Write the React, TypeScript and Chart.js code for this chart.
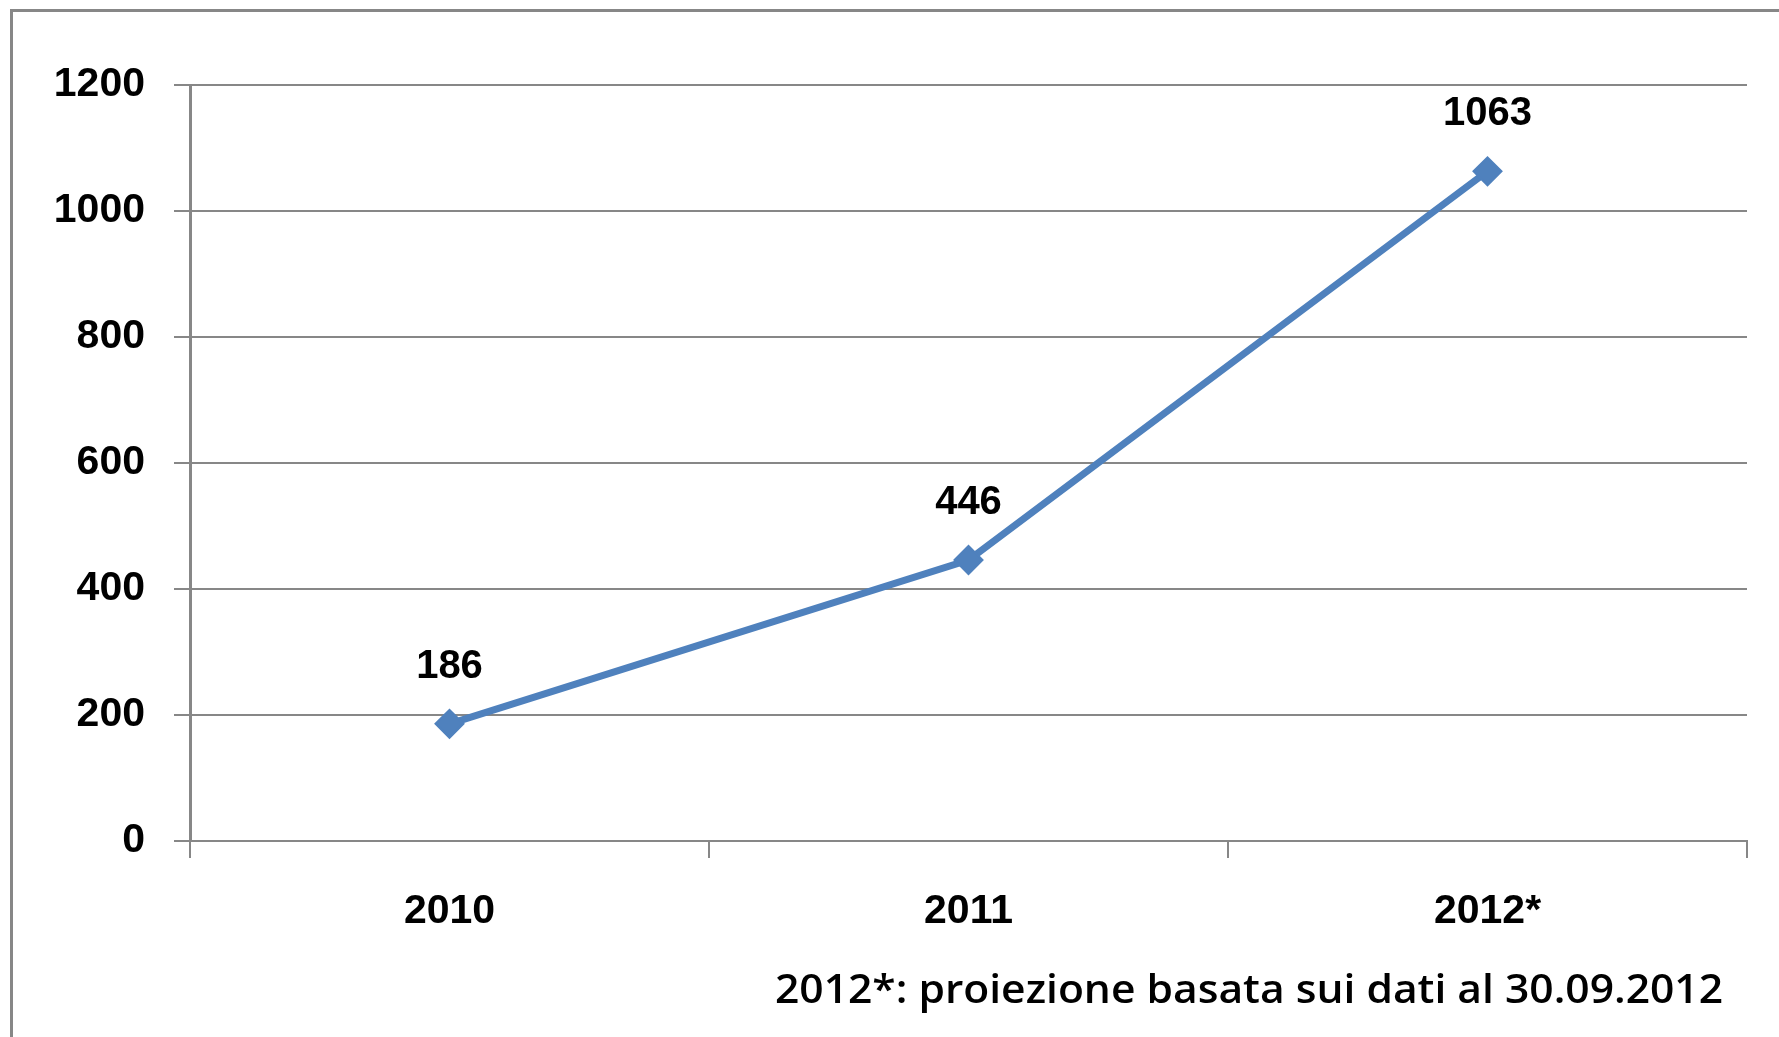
import React, { useEffect, useRef } from "react";
import { Chart, registerables } from "chart.js";

Chart.register(...registerables);

const categories = ["2010", "2011", "2012*"];
const values = [186, 446, 1063];
const yTicks = [0, 200, 400, 600, 800, 1000, 1200];
const noteText = "2012*: proiezione basata sui dati al 30.09.2012";

const W = 1779;
const H = 1037;
const BOLDF = "'Liberation Sans', Arial, sans-serif";
const GRAY = "#878787";
const BLUE = "#4F81BD";

export default function App() {
  const ref = useRef<HTMLCanvasElement | null>(null);

  useEffect(() => {
    document.body.style.margin = "0";
    const canvas = ref.current!;
    const framePlugin = {
      id: "frame",
      beforeDraw(chart: any) {
        const ctx = chart.ctx;
        ctx.save();
        ctx.fillStyle = "#ffffff";
        ctx.fillRect(0, 0, chart.width, chart.height);
        ctx.fillStyle = GRAY;
        ctx.fillRect(10, 9, 3, chart.height - 9);
        ctx.fillRect(10, 9, chart.width - 10, 3);
        ctx.restore();
      },
    };
    const labelsPlugin = {
      id: "valueLabels",
      afterDatasetsDraw(chart: any) {
        const ctx = chart.ctx;
        const meta = chart.getDatasetMeta(0);
        ctx.save();
        ctx.fillStyle = "#000";
        ctx.font = `bold 40px ${BOLDF}`;
        ctx.textAlign = "center";
        ctx.textBaseline = "alphabetic";
        meta.data.forEach((pt: any, i: number) => {
          ctx.fillText(String(values[i]), pt.x, pt.y - 46);
        });
        // footnote
        ctx.font = `600 39px 'Open Sans', 'Noto Sans', sans-serif`;
        const tw = ctx.measureText(noteText).width;
        const target = 948;
        const sx = target / tw;
        ctx.translate(1723, 1003);
        ctx.scale(sx, 1);
        ctx.textAlign = "right";
        ctx.fillText(noteText, 0, 0);
        ctx.restore();
      },
    };

    const chart = new Chart(canvas, {
      type: "line",
      data: {
        labels: categories,
        datasets: [
          {
            data: values,
            borderColor: BLUE,
            backgroundColor: BLUE,
            borderWidth: 7,
            pointStyle: "rectRot",
            pointRadius: 14,
            pointBorderWidth: 2,
            pointBackgroundColor: BLUE,
            pointBorderColor: BLUE,
            tension: 0,
            fill: false,
          },
        ],
      },
      options: {
        responsive: false,
        animation: false,
        devicePixelRatio: 1,
        layout: { padding: { top: 85, right: 32, left: 0, bottom: 0 } },
        plugins: {
          legend: { display: false },
          tooltip: { enabled: false },
          title: { display: false },
        },
        scales: {
          x: {
            type: "category",
            offset: true,
            grid: {
              offset: true,
              drawOnChartArea: false,
              drawTicks: true,
              tickLength: 17,
              color: GRAY,
              lineWidth: 2,
            },
            border: { display: true, color: GRAY, width: 2 },
            ticks: {
              color: "#000",
              padding: 29,
              font: { family: BOLDF, size: 41, weight: "bold" },
            },
            afterFit(scale: any) {
              scale.height = H - 841;
            },
          },
          y: {
            min: 0,
            max: 1200,
            afterBuildTicks(scale: any) {
              scale.ticks = yTicks.map((v) => ({ value: v }));
            },
            grid: {
              color: GRAY,
              lineWidth: 2,
              drawTicks: true,
              tickLength: 16,
            },
            border: { display: true, color: GRAY, width: 3 },
            ticks: {
              color: "#000",
              padding: 29,
              font: { family: BOLDF, size: 41, weight: "bold" },
              callback: (v: any) => String(v),
            },
            afterFit(scale: any) {
              scale.width = 190;
            },
          },
        },
      },
      plugins: [framePlugin, labelsPlugin],
    } as any);
    return () => chart.destroy();
  }, []);

  return (
    <div style={{ position: "fixed", left: 0, top: 0, width: W, height: H, overflow: "hidden", background: "#fff" }}>
      <canvas ref={ref} width={W} height={H} style={{ display: "block", width: W, height: H }} />
    </div>
  );
}
